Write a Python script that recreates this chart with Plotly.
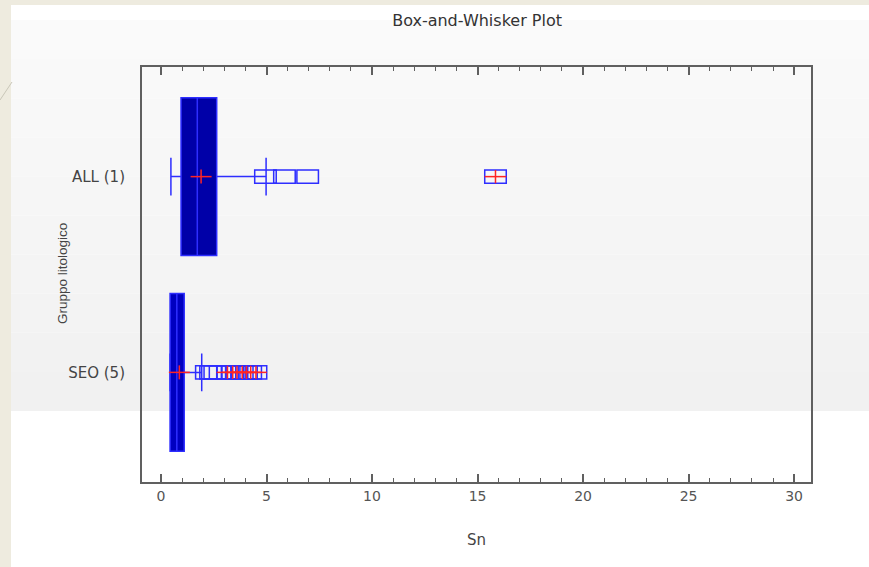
import plotly.graph_objects as go

# ---------------- data ----------------
categories = ["SEO (5)", "ALL (1)"]
positions = [0, 1]
q1 = [0.43, 0.95]
median = [0.75, 1.72]
q3 = [1.10, 2.64]
lower_whisker = [0.42, 0.47]
upper_whisker = [1.93, 4.98]
means = [0.87, 1.90]

# outliers (outside) and far outliers (far outside) per group
all_outside = [4.95, 5.85, 6.95]
all_far = [15.85]
seo_outside = [2.15, 2.35, 2.55, 2.80]
seo_far = [3.15, 3.40, 3.60, 3.85, 4.05, 4.25, 4.50]

x_ticks = [0, 5, 10, 15, 20, 25, 30]

# ---------------- styles ----------------
BOX_FILL = ["#0000C0", "#0000A8"]
BLUE = "#2E2EFF"
RED = "#FF2424"
FRAME = "#606060"
TXT = "#444444"
FONT = "DejaVu Sans, Liberation Sans, Arial, sans-serif"
RECT_W = 1.02   # outlier rectangle width (data units)
RECT_H = 0.067  # outlier rectangle height (data units)

# plot frame in pixels
W, H = 869, 567
L, R, T, B = 142, 811, 67, 482

def px(xp):
    return (xp - L) / (R - L)

def py(yp):
    return (B - yp) / (B - T)

fig = go.Figure()

# boxes
for i in range(len(categories)):
    fig.add_trace(go.Box(
        orientation="h",
        y=[positions[i]],
        q1=[q1[i]], median=[median[i]], q3=[q3[i]],
        lowerfence=[lower_whisker[i]], upperfence=[upper_whisker[i]],
        width=0.805, whiskerwidth=0.24,
        fillcolor=BOX_FILL[i],
        line=dict(color=BLUE, width=1.5),
        boxpoints=False, showlegend=False, hoverinfo="skip",
    ))

# outlier rectangles
groups = [
    (seo_outside + seo_far, positions[0]),
    (all_outside + all_far, positions[1]),
]
for vals, pos in groups:
    fig.add_trace(go.Bar(
        orientation="h",
        base=[v - RECT_W / 2 for v in vals],
        x=[RECT_W] * len(vals),
        y=[pos] * len(vals),
        width=RECT_H,
        marker=dict(color="rgba(0,0,0,0)", line=dict(color=BLUE, width=1.5)),
        showlegend=False, hoverinfo="skip",
    ))

# far outliers: red plus inside rectangle
for vals, pos in [(seo_far, positions[0]), (all_far, positions[1])]:
    fig.add_trace(go.Scatter(
        x=vals, y=[pos] * len(vals), mode="markers",
        marker=dict(symbol="line-ew", size=15.5, line=dict(color=RED, width=1.5)),
        showlegend=False, hoverinfo="skip"))
    fig.add_trace(go.Scatter(
        x=vals, y=[pos] * len(vals), mode="markers",
        marker=dict(symbol="line-ns", size=9.5, line=dict(color=RED, width=1.5)),
        showlegend=False, hoverinfo="skip"))

# means: red cross
fig.add_trace(go.Scatter(
    x=means, y=positions, mode="markers",
    marker=dict(symbol="line-ew", size=15, line=dict(color=RED, width=1.5)),
    showlegend=False, hoverinfo="skip"))
fig.add_trace(go.Scatter(
    x=means, y=positions, mode="markers",
    marker=dict(symbol="line-ns", size=10, line=dict(color=RED, width=1.5)),
    showlegend=False, hoverinfo="skip"))

# ---------------- background decoration ----------------
shapes = []
# gray gradient band
top_band, bot_band = 20, 411
n = 10
c0, c1 = (251, 251, 251), (240, 240, 240)
for k in range(n):
    y0 = top_band + (bot_band - top_band) * k / n
    y1 = top_band + (bot_band - top_band) * (k + 1) / n
    t = (k + 0.5) / n
    col = tuple(round(c0[j] + (c1[j] - c0[j]) * t) for j in range(3))
    shapes.append(dict(type="rect", xref="paper", yref="paper",
                       x0=px(11), x1=px(W), y0=py(y1), y1=py(y0),
                       fillcolor="rgb(%d,%d,%d)" % col, line=dict(width=0),
                       layer="below"))
# beige slide margins
shapes.append(dict(type="rect", xref="paper", yref="paper",
                   x0=px(0), x1=px(11), y0=py(H), y1=py(0),
                   fillcolor="#EEEBDF", line=dict(width=0), layer="below"))
shapes.append(dict(type="rect", xref="paper", yref="paper",
                   x0=px(0), x1=px(W), y0=py(5), y1=py(0),
                   fillcolor="#EEEBDF", line=dict(width=0), layer="below"))
shapes.append(dict(type="line", xref="paper", yref="paper",
                   x0=px(0), x1=px(12), y0=py(100), y1=py(82),
                   line=dict(color="#C9C6B8", width=1), layer="below"))

fig.update_layout(
    width=W, height=H, autosize=False,
    margin=dict(l=L, r=W - R, t=T, b=H - B, pad=0),
    paper_bgcolor="white", plot_bgcolor="rgba(0,0,0,0)",
    barmode="overlay", boxmode="overlay",
    showlegend=False,
    shapes=shapes,
    title=dict(text="Box-and-Whisker Plot", x=0.549, xanchor="center",
               yref="container", y=1 - 20 / H, yanchor="middle",
               font=dict(family=FONT, size=16, color="#333333")),
    xaxis=dict(
        range=[-0.9, 30.8], tickvals=x_ticks,
        ticks="inside", ticklen=8, tickwidth=1.5, tickcolor=FRAME,
        mirror="allticks", showline=True, linecolor=FRAME, linewidth=2,
        showgrid=False, zeroline=False,
        minor=dict(dtick=1, tick0=0, ticks="inside", ticklen=4,
                   tickwidth=1, tickcolor=FRAME, showgrid=False),
        tickfont=dict(family=FONT, size=14, color="#555555"),
    ),
    yaxis=dict(
        range=[-0.56, 1.56], tickvals=positions, ticktext=categories,
        ticks="", showline=True, mirror=True, linecolor=FRAME, linewidth=2,
        showgrid=False, zeroline=False, ticklabelstandoff=12,
        tickfont=dict(family=FONT, size=15, color=TXT),
    ),
    annotations=[
        dict(text="Sn", xref="paper", yref="paper", x=0.5, y=py(540),
             xanchor="center", yanchor="middle", showarrow=False,
             font=dict(family=FONT, size=15, color=TXT)),
        dict(text="Gruppo litologico", xref="paper", yref="paper",
             x=px(62), y=py(274), textangle=-90,
             xanchor="center", yanchor="middle", showarrow=False,
             font=dict(family="Liberation Sans, Arial, sans-serif",
                       size=13.5, color=TXT)),
    ],
)

fig.write_html("out.html",
               config={"displayModeBar": False},
               post_script="document.body.style.margin='0';document.body.style.overflow='hidden';")
